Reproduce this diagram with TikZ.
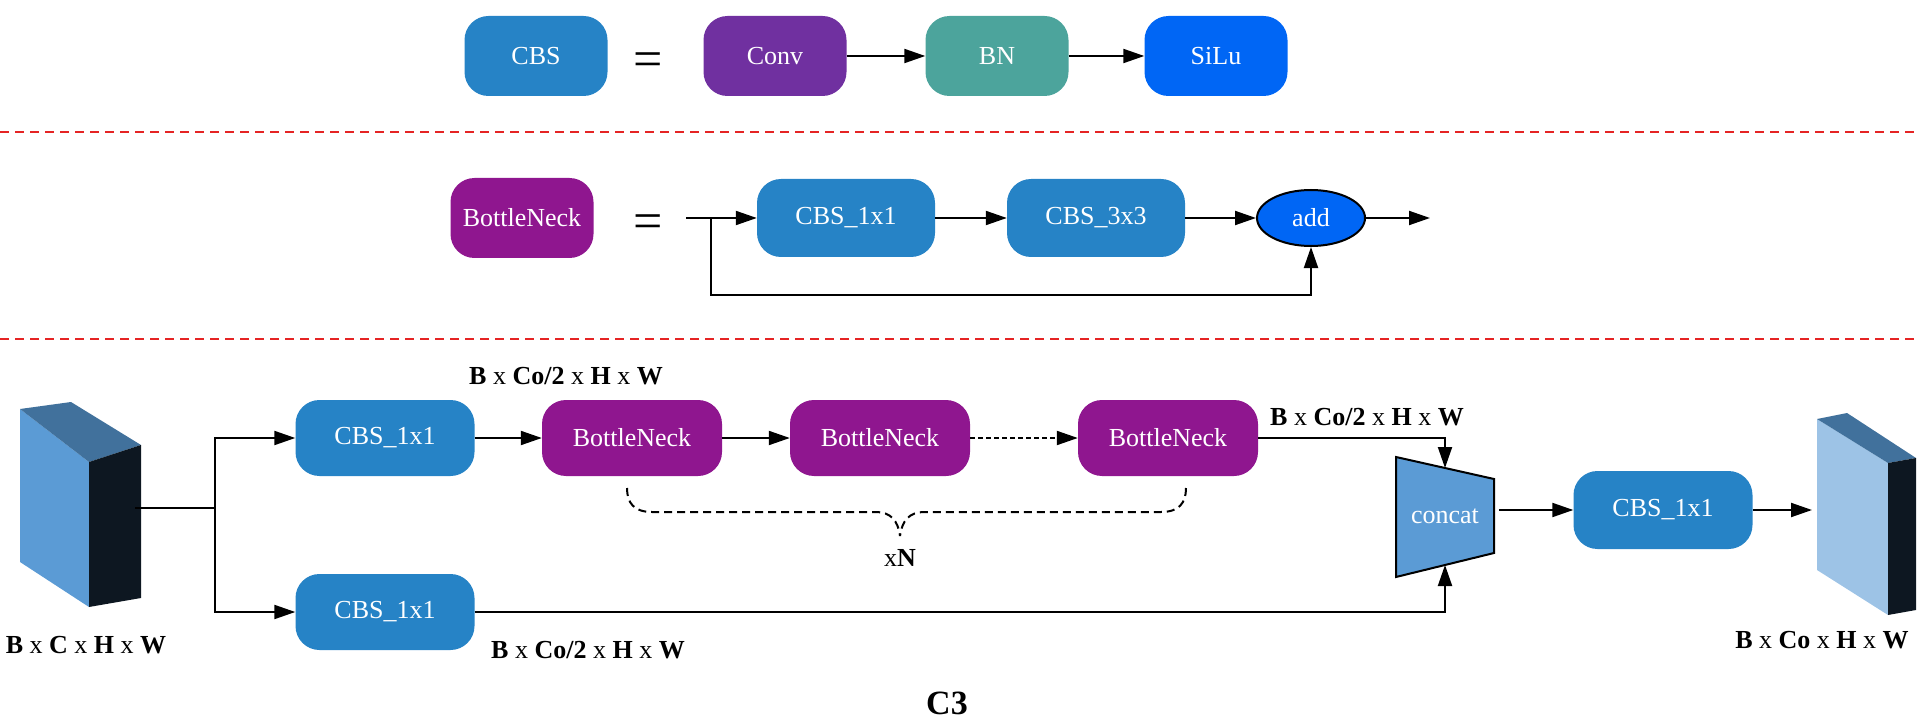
\documentclass[tikz,border=0pt]{standalone}
\usepackage{fontspec}
\setmainfont{Liberation Serif}
\usetikzlibrary{arrows.meta, calc, positioning, shapes.geometric}
\definecolor{cbsblue}{HTML}{2683C6}
\definecolor{convpurple}{HTML}{7030A0}
\definecolor{bnteal}{HTML}{4CA49C}
\definecolor{silublue}{HTML}{0066F5}
\definecolor{neckpurple}{HTML}{8F168F}
\definecolor{catblue}{HTML}{5B9BD5}
\definecolor{cubelight}{HTML}{9DC3E6}
\definecolor{cubetop}{HTML}{41719C}
\definecolor{cubeside}{HTML}{0D1721}
\definecolor{sepred}{HTML}{E52424}
\newcommand{\shp}[1]{\textbf{B} x \textbf{#1} x \textbf{H} x \textbf{W}}
\tikzset{
  blk/.style    ={rectangle, rounded corners=24pt, minimum width=143pt, minimum height=80pt,
                  inner sep=0pt, text=white, font=\fontsize{26}{30}\selectfont},
  wblk/.style   ={blk, minimum width=178pt, minimum height=78pt},
  cbs/.style    ={fill=cbsblue},
  neck/.style   ={fill=neckpurple},
  addop/.style  ={ellipse, draw, line width=2pt, fill=silublue, minimum width=108pt, minimum height=56pt,
                  inner sep=0pt, text=white, font=\fontsize{26}{30}\selectfont},
  eqs/.style    ={font=\fontsize{52}{52}\selectfont, inner sep=0pt},
  arr/.style    ={-{Triangle[length=21pt,width=14pt]}, line width=2pt},
  sep/.style    ={sepred, line width=2pt, dash pattern=on 9pt off 6pt},
  dimlbl/.style ={font=\fontsize{26}{30}\selectfont, inner sep=0pt},
  brace/.style  ={line width=2pt, dash pattern=on 8pt off 5pt},
}

\begin{document}
\begin{tikzpicture}[x=1pt, y=-1pt]
  \useasboundingbox (0,0) rectangle (1920,722);

  % CBS = Conv -> BN -> SiLu
  \node[blk, cbs] (cbsdef) at (536,56) {CBS};
  \node[eqs] (eqA) at (648,65) {=};
  \node[blk, fill=convpurple] (conv) at (775,56) {Conv};
  \node[blk, fill=bnteal]     (bn)   at (997,56) {BN};
  \node[blk, fill=silublue]   (silu) at (1216,56) {SiLu};
  \draw[arr] (conv) -- (bn);
  \draw[arr] (bn) -- (silu);

  \draw[sep] (0,132) -- (1920,132);

  % BottleNeck = CBS_1x1 -> CBS_3x3 -> add
  \node[blk, neck] (neckdef) at (522,218) {BottleNeck};
  \node[eqs] (eqB) at (648,227) {=};
  \coordinate (bin)    at (686,218);
  \coordinate (bsplit) at (711,218);
  \coordinate (bypass) at (711,295);
  \node[wblk, cbs] (cbsa) at (846,218) {CBS\_1x1};
  \node[wblk, cbs] (cbsb) at (1096,218) {CBS\_3x3};
  \node[addop] (add) at (1311,218) {add};
  \coordinate (bout) at (1430,218);
  \draw[arr] (bin) -- (cbsa);
  \draw[arr] (cbsa) -- (cbsb);
  \draw[arr] (cbsb) -- (add);
  \draw[arr] (add) -- (bout);
  \draw[arr] (bsplit) -- (bypass) -| (add.south);

  \draw[sep] (0,339) -- (1920,339);

  % C3
  \fill[catblue]  (20,409) -- (89,462) -- (89,607) -- (20,562) -- cycle;
  \fill[cubetop]  (20,409) -- (71,402) -- (141,445) -- (89,462) -- cycle;
  \fill[cubeside] (89,462) -- (141,445) -- (141,598) -- (89,607) -- cycle;
  \coordinate (incube) at (135,508);
  \coordinate (split)  at (215,508);
  \node[dimlbl] (dimin) at (86,645) {\shp{C}};

  \node[wblk, cbs, minimum width=179pt, minimum height=76pt] (cbst) at (385,438) {CBS\_1x1};
  \node[wblk, cbs, minimum width=179pt, minimum height=76pt] (cbsl) at (385,612) {CBS\_1x1};
  \node[wblk, neck, minimum width=180pt, minimum height=76pt] (necka) at (632,438) {BottleNeck};
  \node[wblk, neck, minimum width=180pt, minimum height=76pt] (neckb) at (880,438) {BottleNeck};
  \node[wblk, neck, minimum width=180pt, minimum height=76pt] (neckc) at (1168,438) {BottleNeck};
  \node[dimlbl] (dimt) at (566,376) {\shp{Co/2}};
  \node[dimlbl] (dimb) at (588,650) {\shp{Co/2}};
  \node[dimlbl] (dimr) at (1367,417) {\shp{Co/2}};

  \draw[brace] (627,488) .. controls (627,503) and (634,512) .. (652,512) -- (876,512)
               .. controls (890,512) and (898,520) .. (900,536);
  \draw[brace] (1186,488) .. controls (1186,503) and (1179,512) .. (1161,512) -- (924,512)
               .. controls (910,512) and (902,520) .. (900,536);
  \node[dimlbl] (times) at (900,558) {x\textbf{N}};

  \filldraw[fill=catblue, line width=2pt] (1396,457) -- (1494,479) -- (1494,553) -- (1396,577) -- cycle;
  \node[dimlbl, text=white] (concat) at (1445,516) {concat};
  \coordinate (catin)  at (1445,468);
  \coordinate (catlow) at (1445,565);
  \coordinate (catout) at (1499,510);

  \node[wblk, cbs, minimum width=179pt] (cbsr) at (1663,510) {CBS\_1x1};

  \fill[cubelight] (1817,419) -- (1888,463) -- (1888,615) -- (1817,570) -- cycle;
  \fill[cubetop]   (1817,419) -- (1847,413) -- (1916,458) -- (1888,463) -- cycle;
  \fill[cubeside]  (1888,463) -- (1916,458) -- (1916,610) -- (1888,615) -- cycle;
  \coordinate (outcube) at (1812,510);
  \node[dimlbl] (dimout) at (1822,640) {\shp{Co}};

  \draw[line width=2pt] (incube) -- (split);
  \draw[arr] (split) |- (cbst.west);
  \draw[arr] (split) |- (cbsl.west);
  \draw[arr] (cbst) -- (necka);
  \draw[arr] (necka) -- (neckb);
  \draw[arr, dash pattern=on 5pt off 3pt] (neckb) -- (neckc);
  \draw[arr] (neckc.east) -| (catin);
  \draw[arr] (cbsl.east) -| (catlow);
  \draw[arr] (catout) -- (cbsr);
  \draw[arr] (cbsr) -- (outcube);

  \node[font=\fontsize{34}{40}\selectfont\bfseries] (title) at (947,703) {C3};
\end{tikzpicture}
\end{document}
